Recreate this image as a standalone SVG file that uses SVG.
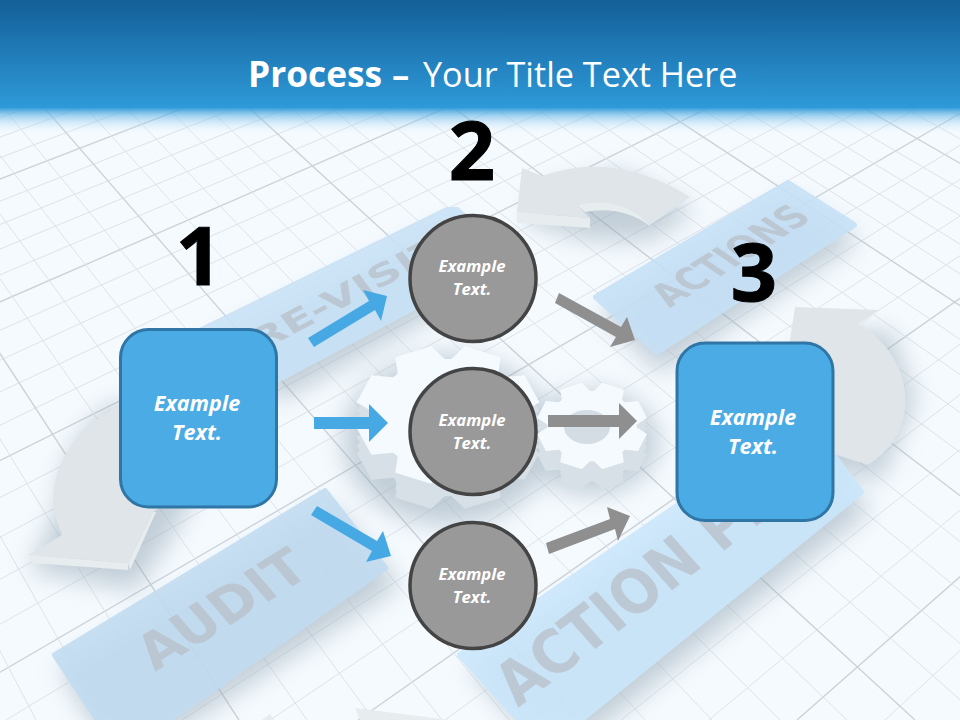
<svg xmlns="http://www.w3.org/2000/svg" xmlns:xlink="http://www.w3.org/1999/xlink" width="960" height="720" viewBox="0 0 960 720">
<style>
.minor{fill:none;stroke:#dde3e9;stroke-width:1}
.major{fill:none;stroke:#ccd3d9;stroke-width:1.4}
.bar{stroke-width:6;stroke-linejoin:round;opacity:.88}
.wm{font-family:"DejaVu Sans",sans-serif;font-weight:700;fill:#b9c3cc;opacity:.8}
.arrface{fill:#dfe5e8}
.arrside{fill:#e7ecef}
.gtop{fill:#f5fafe}
.gside{fill:#d6e0e6}
.box{fill:#4aabe5;stroke:#2f75a5;stroke-width:3}
.circ{fill:#999;stroke:#444;stroke-width:3.5}
.lbl{font-family:"Open Sans",sans-serif;font-weight:700;font-style:italic;fill:#fff;text-anchor:middle}
.l1{font-size:21.5px}
.l2{font-size:16.7px}
.num{font-family:"Open Sans",sans-serif;font-weight:700;font-size:81px;fill:#000;stroke:#000;stroke-width:1;text-anchor:middle}
.blue{fill:#46a9e3}
.grey{fill:#8f8f8f}
.ttl{font-family:"Open Sans",sans-serif;fill:#fff}
</style>
<defs>
<linearGradient id="hd" x1="0" y1="0" x2="0" y2="1"><stop offset="0" stop-color="#135f98"/><stop offset="1" stop-color="#2e9ad9"/></linearGradient>
<linearGradient id="fade" x1="0" y1="0" x2="0" y2="1"><stop offset="0" stop-color="#2e9ad9" stop-opacity=".95"/><stop offset=".3" stop-color="#5fb2e5" stop-opacity=".55"/><stop offset="1" stop-color="#eaf4fb" stop-opacity="0"/></linearGradient>
<filter id="blur" x="-30%" y="-30%" width="160%" height="160%"><feGaussianBlur stdDeviation="12"/></filter>
<filter id="soft" x="-5%" y="-5%" width="110%" height="110%"><feGaussianBlur stdDeviation=".7"/></filter>
<path id="gear" d="M75.2-27.400L97.800-20.800 97.800 20.800 75.200 27.400 72.500 33.800 83.900 54.400 54.400 83.900 33.800 72.500 27.400 75.200 20.800 97.800-20.800 97.800-27.400 75.200-33.800 72.500-54.400 83.900-83.900 54.400-72.500 33.800-75.200 27.400-97.800 20.800-97.800-20.800-75.200-27.400-72.500-33.800-83.900-54.400-54.400-83.900-33.800-72.500-27.400-75.200-20.800-97.800 20.800-97.800 27.400-75.200 33.800-72.500 54.400-83.900 83.900-54.400 72.500-33.800Z"/>
</defs>

<g id="background">
<rect width="960" height="720" fill="#f5fafe"/>
<path class="minor" d="M2521-795L-1752 720M2521-795L-1664 720M2521-795L-1576 720M2521-795L-1488 720M2521-795L-1313 720M2521-795L-1225 720M2521-795L-1137 720M2521-795L-1049 720M2521-795L-873 720M2521-795L-785 720M2521-795L-697 720M2521-795L-609 720M2521-795L-434 720M2521-795L-346 720M2521-795L-258 720M2521-795L-170 720M2521-795L6 720M2521-795L94 720M2521-795L182 720M2521-795L270 720M2521-795L445 720M2521-795L533 720M2521-795L621 720M2521-795L709 720M2521-795L885 720M2521-795L973 720"/>
<path class="major" d="M2521-795L-1400 720M2521-795L-961 720M2521-795L-521 720M2521-795L-82 720M2521-795L358 720M2521-795L797 720"/>
<path class="minor" d="M-774-833L-31 720M-774-833L36 720M-774-833L104 720M-774-833L171 720M-774-833L307 720M-774-833L374 720M-774-833L442 720M-774-833L509 720M-774-833L645 720M-774-833L712 720M-774-833L780 720M-774-833L847 720M-774-833L983 720M-774-833L1050 720M-774-833L1118 720M-774-833L1185 720M-774-833L1321 720M-774-833L1388 720M-774-833L1456 720M-774-833L1523 720M-774-833L1659 720M-774-833L1726 720M-774-833L1794 720M-774-833L1861 720M-774-833L1997 720M-774-833L2064 720M-774-833L2132 720"/>
<path class="major" d="M-774-833L239 720M-774-833L577 720M-774-833L915 720M-774-833L1253 720M-774-833L1591 720M-774-833L1929 720"/>

<g id="shadows" filter="url(#blur)" fill="#8fa3b1" opacity=".5">
<path d="M120 400Q60 440 58 510L30 570 135 590 175 530 210 470Z"/>
<path d="M60 668L330 505 400 585 170 735 100 735Z"/>
<path d="M470 668L800 440 870 510 590 735 530 735Z"/>
<path d="M205 345L450 225 515 270 280 400Z"/>
<path d="M600 312L790 198 860 240 660 372Z"/>
<path d="M525 222L540 190 620 172 695 210 650 240 590 240Z"/>
<path d="M800 340L890 330 915 400 880 480 800 460Z"/>
<ellipse cx="448" cy="440" rx="105" ry="85"/>
<ellipse cx="592" cy="442" rx="66" ry="52"/>
</g>

<g id="bars">
<polygon class="bar" fill="#c9e3f7" stroke="#c9e3f7" points="190,336 447,210 457,210 509,257 277,380 240,400"/>
<polygon class="bar" fill="#c6e1f7" stroke="#c6e1f7" points="788,183 854,225 657,352 596,297"/>
<polygon class="bar" fill="#c2dcf1" stroke="#c2dcf1" points="55,655 325,491 385,568 165,723 100,723"/>
<polygon class="bar" fill="#cbe7fc" stroke="#cbe7fc" points="460,655 805,418 861,492 577,723 522,723"/>
</g>
<text class="wm" font-size="30" transform="matrix(1.32 -.7 .63 .84 260 352)">RE-VISIT</text>
<text class="wm" font-size="30" transform="matrix(.96 -.6 1.1 .75 670 308)">ACTIONS</text>
<text class="wm" font-size="36" transform="matrix(1.27 -.79 .95 1.1 155 672)">AUDIT</text>
<text class="wm" font-size="40" transform="matrix(1.1 -.84 1.03 1.16 518 708)">ACTION PL</text>

<g id="curved-arrows" filter="url(#soft)">
<path class="arrside" d="M517 212L590 218 590 228 517 223Z"/>
<path class="arrside" d="M577 205Q622 192 650 225L650 226Q622 205 585 212Z"/>
<path class="arrface" d="M517 212L522 168 542 176Q615 150 690 197L650 225Q620 195 577 205L590 218Z"/>
<path class="arrface" d="M795 307L878 310 862 325Q910 360 905 410 900 445 868 465L790 440 790 340Z"/>
<path class="arrside" d="M878 310L862 326 858 324Z"/>
<path class="arrface" d="M120 405Q55 440 53 500 55 520 62 535L28 555 128 563 153 512 200 480Z"/>
<path class="arrside" d="M28 555L128 563 128 570 33 563Z"/>
<path class="arrside" d="M128 563L153 512 156 512 130 570Z"/>
<path class="arrside" d="M355 708L450 720 360 720Z"/>
<path class="arrside" d="M262 720L270 714 274 720Z"/>
</g>

<g id="gears">
<use class="gside" xlink:href="#gear" transform="translate(448 440) scale(.93 .7) rotate(22.5)"/>
<use class="gside" xlink:href="#gear" transform="translate(448 432) scale(.93 .7) rotate(22.5)"/>
<use class="gside" xlink:href="#gear" transform="translate(448 424) scale(.93 .7) rotate(22.5)"/>
<use class="gtop" xlink:href="#gear" transform="translate(448 415) scale(.93 .7) rotate(22.5)"/>
<use class="gside" xlink:href="#gear" transform="translate(592 446) scale(.56 .44) rotate(22.5)"/>
<use class="gside" xlink:href="#gear" transform="translate(592 438) scale(.56 .44) rotate(22.5)"/>
<use class="gside" xlink:href="#gear" transform="translate(592 432) scale(.56 .44) rotate(22.5)"/>
<use class="gtop" xlink:href="#gear" transform="translate(592 426) scale(.56 .44) rotate(22.5)"/>
<ellipse cx="587" cy="427" rx="23" ry="17" fill="#d3dde3"/>
</g>
</g>

<g id="header">
<rect width="960" height="108" fill="url(#hd)"/>
<rect y="108" width="960" height="26" fill="url(#fade)"/>
<text class="ttl" y="87"><tspan x="248" font-weight="700" font-size="35.300">Process</tspan><tspan x="392" font-weight="700" font-size="34.500">–</tspan><tspan x="423" font-size="34.200">Your Title Text Here</tspan></text>
</g>

<g id="connectors">
<polygon class="blue" points="308,338 369,301 363,290 387,296 381,321 375,310 314,347"/>
<polygon class="blue" points="314,417 369,417 369,404 388,423 369,442 369,429 314,429"/>
<polygon class="blue" points="311,515 317,506 377,541 383,531 391,556 366,562 372,551"/>
<polygon class="grey" points="555,303 559,293 621,327 627,317 635,340 610,347 616,337"/>
<polygon class="grey" points="548,415 619,415 619,403 637,421 619,439 619,427 548,427"/>
<polygon class="grey" points="546,543 610,519 607,507 630,516 618,541 615,529 549,554"/>
</g>

<g id="node-1">
<rect class="box" x="120.500" y="329.500" width="156" height="177.500" rx="28"/>
<text class="lbl l1" x="197" y="411">Example</text>
<text class="lbl l1" x="197" y="440">Text.</text>
</g>
<g id="node-2a">
<circle class="circ" cx="473" cy="278.500" r="63"/>
<text class="lbl l2" x="472" y="272">Example</text>
<text class="lbl l2" x="472" y="295">Text.</text>
</g>
<g id="node-2b">
<circle class="circ" cx="473" cy="431.500" r="63"/>
<text class="lbl l2" x="472" y="426">Example</text>
<text class="lbl l2" x="472" y="449">Text.</text>
</g>
<g id="node-2c">
<circle class="circ" cx="473" cy="585.500" r="63"/>
<text class="lbl l2" x="472" y="580">Example</text>
<text class="lbl l2" x="472" y="603">Text.</text>
</g>
<g id="node-3">
<rect class="box" x="677" y="343" width="156" height="177.500" rx="28"/>
<text class="lbl l1" x="753" y="425">Example</text>
<text class="lbl l1" x="753" y="454">Text.</text>
</g>
<g id="numbers">
<text class="num" x="199" y="285">1</text>
<text class="num" x="472" y="180">2</text>
<text class="num" x="754" y="301">3</text>
</g>
</svg>
